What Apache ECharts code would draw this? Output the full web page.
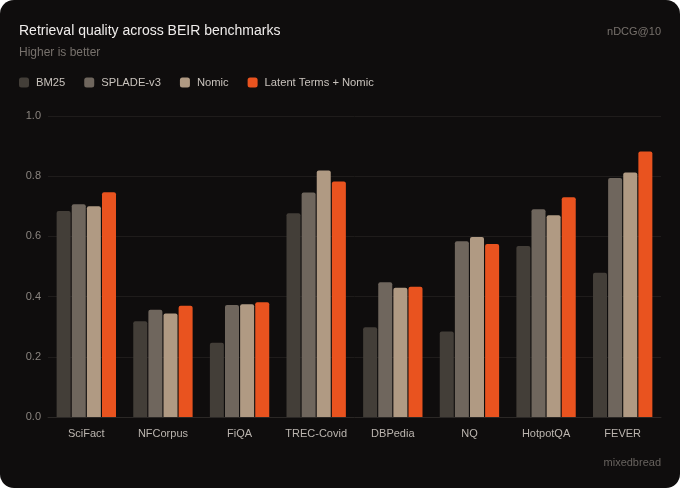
<!DOCTYPE html>
<html>
<head>
<meta charset="utf-8">
<script src="https://cdn.jsdelivr.net/npm/echarts@6/dist/echarts.min.js"></script>
<style>
  html, body { margin: 0; padding: 0; background: #ffffff; }
  #card { width: 680px; height: 488px; border-radius: 14px; background: #0f0d0d; overflow: hidden; }
  #main { width: 680px; height: 488px; }
</style>
</head>
<body>
<div id="card"><div id="main"></div></div>
<script>
var categories = ['SciFact', 'NFCorpus', 'FiQA', 'TREC-Covid', 'DBPedia', 'NQ', 'HotpotQA', 'FEVER'];
var bm25 = [0.684, 0.318, 0.247, 0.677, 0.298, 0.284, 0.568, 0.479];
var spladeV3 = [0.707, 0.356, 0.372, 0.746, 0.448, 0.584, 0.690, 0.794];
var nomic = [0.700, 0.344, 0.375, 0.819, 0.429, 0.598, 0.670, 0.812];
var latentNomic = [0.747, 0.370, 0.381, 0.782, 0.433, 0.575, 0.730, 0.882];
var seriesNames = ['BM25', 'SPLADE-v3', 'Nomic', 'Latent Terms + Nomic'];
var colors = ['#433e38', '#6f665d', '#b09a83', '#e9531f'];

var chartDom = document.getElementById('main');
var myChart = echarts.init(chartDom);
var font = '"Liberation Sans", Arial, sans-serif';

function bar(name, data, color) {
    return {
        name: name,
        type: 'bar',
        data: data,
        barWidth: 14,
        barGap: '8%',
        itemStyle: { color: color, borderRadius: [2, 2, 0, 0] }
    };
}

var option = {
    backgroundColor: 'transparent',
    textStyle: { fontFamily: font },
    title: [
        {
            text: 'Retrieval quality across BEIR benchmarks',
            subtext: 'Higher is better',
            left: 14,
            top: 19,
            itemGap: 9,
            textStyle: { color: '#efeceb', fontSize: 14, fontWeight: 'normal', fontFamily: font },
            subtextStyle: { color: '#77716c', fontSize: 12, fontFamily: font }
        },
        {
            text: 'nDCG@10',
            right: 14,
            top: 21,
            textStyle: { color: '#77716c', fontSize: 11, fontWeight: 'normal', fontFamily: font }
        },
        {
            text: 'mixedbread',
            right: 14,
            top: 452,
            textStyle: { color: '#67625e', fontSize: 11, fontWeight: 'normal', fontFamily: font }
        }
    ],
    legend: {
        data: seriesNames,
        left: 14,
        top: 72,
        icon: 'roundRect',
        itemWidth: 10,
        itemHeight: 10,
        itemGap: 19,
        textStyle: { color: '#c9c3bd', fontSize: 11.2, fontFamily: font, padding: [0, 0, 0, 2] }
    },
    grid: {
        left: 48,
        right: 19,
        top: 116,
        bottom: 71
    },
    xAxis: {
        type: 'category',
        data: categories,
        axisLine: { lineStyle: { color: '#2b2826' } },
        axisTick: { show: false },
        axisLabel: { color: '#bbb5af', fontSize: 11, margin: 11, interval: 0, fontFamily: font }
    },
    yAxis: {
        type: 'value',
        min: 0,
        max: 1,
        interval: 0.2,
        axisLabel: {
            color: '#8a847f',
            fontSize: 11,
            margin: 7,
            fontFamily: font,
            formatter: function (v) { return v.toFixed(1); }
        },
        splitLine: { lineStyle: { color: '#1f1c1b' } }
    },
    series: [
        bar(seriesNames[0], bm25, colors[0]),
        bar(seriesNames[1], spladeV3, colors[1]),
        bar(seriesNames[2], nomic, colors[2]),
        bar(seriesNames[3], latentNomic, colors[3])
    ]
};
myChart.setOption(option);
</script>
</body>
</html>
